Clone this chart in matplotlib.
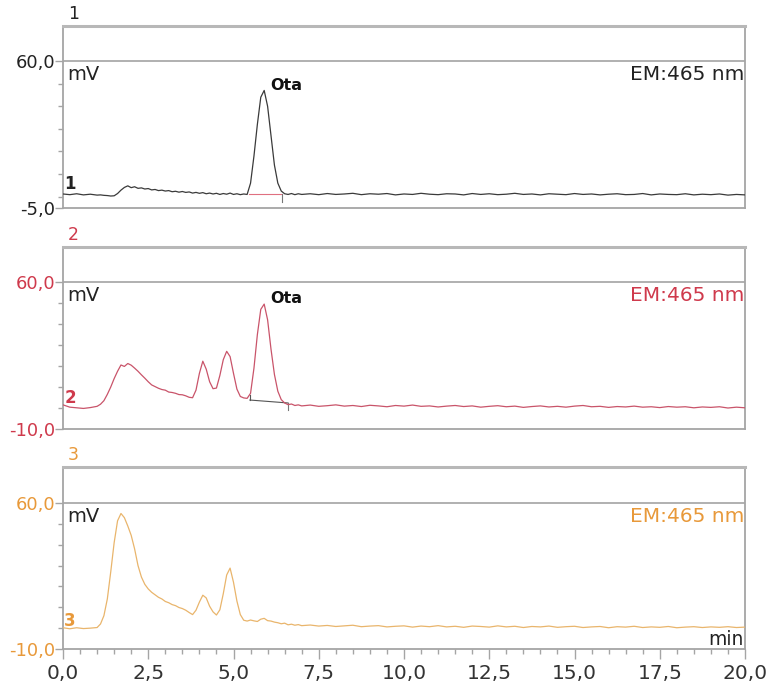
import numpy as np
import matplotlib
matplotlib.use("Agg")
import matplotlib.pyplot as plt
from matplotlib.ticker import MultipleLocator, FixedLocator

# ---------------- data ----------------
# time grid (min)
time = np.round(np.concatenate([
    np.arange(0.0, 1.01, 0.2),
    np.arange(1.1, 7.01, 0.1),
    np.arange(7.25, 20.01, 0.25),
]), 3)

signal_1 = [1.2, 0.9, 1.3, 0.8, 1.1, 0.7,
            0.8, 0.6, 0.5, 0.3, 0.4, 1.4, 2.9, 4.1, 4.8, 4.0,
            4.4, 3.7, 3.9, 3.4, 3.6, 3.0, 3.2, 2.7, 2.9, 2.5,
            2.7, 2.2, 2.4, 2.0, 2.3, 1.9, 2.1, 1.6, 1.9, 1.5,
            1.8, 1.3, 1.6, 1.2, 1.5, 1.0, 1.4, 1.1, 1.6, 1.0,
            1.3, 0.9, 1.2, 1.0, 6.0, 18.0, 32.0, 44.0, 47.0, 40.0,
            27.0, 14.0, 6.0, 2.5, 1.3, 1.0, 1.4, 0.9, 1.3, 1.0,
            1.3, 0.9, 1.4, 1.0, 1.2, 1.5, 0.9, 1.3, 1.1, 1.4, 0.8, 1.2, 1.0,
            1.5, 1.1, 0.9, 1.3, 1.2, 0.8, 1.4, 1.0, 1.3, 0.9, 1.1, 1.5, 1.0,
            1.2, 0.8, 1.3, 1.1, 0.9, 1.4, 1.0, 1.2, 0.8, 1.1, 1.3, 0.9, 1.0,
            1.4, 0.8, 1.2, 1.0, 0.9, 1.3, 0.8, 1.1, 0.9, 1.2, 0.7, 1.0, 0.8]

signal_2 = [1.5, 0.4, 0.1, -0.2, 0.2, 0.8,
            1.8, 3.5, 6.5, 10.0, 14.0, 17.5, 20.5, 19.8, 21.2, 20.4,
            19.0, 17.5, 15.8, 14.2, 12.5, 11.0, 10.2, 9.4, 8.8, 8.5,
            7.6, 7.4, 7.0, 6.4, 6.3, 5.8, 5.1, 4.9, 8.5, 16.5,
            22.3, 18.5, 12.5, 9.2, 9.5, 15.5, 23.0, 27.0, 24.5, 16.5,
            9.0, 5.5, 4.8, 4.6, 7.0, 19.0, 35.0, 47.0, 49.5, 42.0,
            28.0, 16.0, 8.0, 4.0, 2.4, 1.6, 1.9, 1.2, 1.5, 1.0,
            1.4, 0.8, 1.1, 1.5, 0.9, 1.2, 0.7, 1.3, 1.0, 0.6, 1.2, 0.9, 1.4,
            0.8, 1.0, 0.5, 0.9, 1.2, 0.7, 1.0, 0.4, 0.8, 1.1, 0.6, 0.9, 0.3,
            0.7, 1.0, 0.5, 0.8, 0.4, 0.9, 1.2, 0.6, 0.8, 0.3, 0.7, 0.5, 0.9,
            0.4, 0.6, 0.2, 0.7, 0.4, 0.6, 0.1, 0.5, 0.3, 0.6, 0.0, 0.4, 0.1]

signal_3 = [0.2, -0.3, 0.2, -0.2, 0.0, 0.3,
            2.0, 6.0, 14.0, 27.0, 41.0, 51.5, 55.0, 53.0, 49.0, 44.5,
            38.0, 30.0, 24.5, 21.0, 18.8, 17.2, 16.0, 14.8, 14.0, 12.8,
            12.2, 11.3, 10.8, 9.9, 9.4, 8.6, 7.5, 6.5, 8.6, 12.5,
            15.8, 14.5, 10.5, 7.8, 6.3, 8.8, 16.5, 25.5, 28.8, 22.0,
            13.0, 6.5, 3.8, 3.4, 3.9, 3.5, 3.2, 4.3, 4.7, 3.6,
            3.4, 2.9, 2.6, 2.1, 2.4, 1.6, 1.9, 1.4, 1.7, 1.2,
            1.5, 1.0, 1.3, 0.8, 1.1, 1.4, 0.7, 1.0, 1.2, 0.6, 0.9, 1.1, 0.5,
            1.0, 0.7, 1.2, 0.6, 0.9, 0.4, 1.0, 0.8, 0.5, 1.1, 0.6, 0.9, 0.3,
            0.8, 0.6, 1.0, 0.4, 0.7, 0.9, 0.3, 0.6, 0.8, 0.2, 0.7, 0.5, 0.9,
            0.3, 0.6, 0.4, 0.8, 0.2, 0.5, 0.7, 0.3, 0.6, 0.4, 0.7, 0.3, 0.5]

signals = [signal_1, signal_2, signal_3]
channel_ids = ["1", "2", "3"]
y_min_labels = ["-5,0", "-10,0", "-10,0"]
y_mins = [-5.0, -10.0, -10.0]
y_top_label = "60,0"
y_top = 60.0
detector_label = "EM:465 nm"
unit_label = "mV"
time_label = "min"
peak_name = "Ota"
peak_time = [5.9, 5.9, None]
peak_height = [47.0, 49.5, None]
# integration baselines (start/end time, start/end value)
int_base_t = [(5.45, 6.42), (5.48, 6.6), None]
int_base_v = [(1.0, 1.0), (3.8, 2.4), None]
x_ticks = [0.0, 2.5, 5.0, 7.5, 10.0, 12.5, 15.0, 17.5, 20.0]
x_tick_labels = ["0,0", "2,5", "5,0", "7,5", "10,0", "12,5", "15,0", "17,5", "20,0"]

for s in signals:
    assert len(s) == len(time), (len(s), len(time))

# ---------------- style ----------------
W, H = 770, 691
trace_colors = ["#3a3a3a", "#c9546a", "#e9b56c"]
label_colors = ["#222222", "#cf3a4c", "#e8993a"]
spine_col = "#a5a5a5"
plt.rcParams["font.family"] = ["DejaVu Sans"]

fig = plt.figure(figsize=(W / 100, H / 100), dpi=100)
boxes = [(26, 208), (247, 429), (467, 649)]
y_tops = [75.5, 76.7, 77.3]

for i, (top, bot) in enumerate(boxes):
    ax = fig.add_axes([63 / W, 1 - bot / H, (745 - 63) / W, (bot - top) / H])
    ax.set_xlim(0, 20)
    ax.set_ylim(y_mins[i], y_tops[i])
    ax.plot(time, signals[i], color=trace_colors[i], lw=0.9, zorder=3)
    ax.axhline(y_top, color="#b0b0b0", lw=1.4, zorder=1)

    for side in ["left", "right", "bottom"]:
        ax.spines[side].set_color(spine_col)
        ax.spines[side].set_linewidth(1.3)
    ax.spines["top"].set_color("#b8b8b8")
    ax.spines["top"].set_linewidth(2.2)

    # y ticks
    ax.yaxis.set_major_locator(FixedLocator([y_mins[i], y_top]))
    ax.set_yticklabels([y_min_labels[i], y_top_label])
    ax.yaxis.set_minor_locator(FixedLocator([0, 10, 20, 30, 40, 50]))
    ax.tick_params(axis="y", which="major", direction="out", length=5.5, width=1.0,
                   color=spine_col, labelsize=13, labelcolor=label_colors[i], pad=0)
    ax.tick_params(axis="y", which="minor", direction="out", length=3.5, width=1.0,
                   color=spine_col)

    if i < 2:
        ax.set_xticks([])
    else:
        ax.set_xticks(x_ticks)
        ax.set_xticklabels(x_tick_labels)
        ax.xaxis.set_minor_locator(MultipleLocator(0.5))
        ax.tick_params(axis="x", which="major", direction="out", length=7, width=1.0,
                       color=spine_col, labelsize=14.5, labelcolor="#333333", pad=4)
        ax.tick_params(axis="x", which="minor", direction="out", length=3.5, width=1.0,
                       color=spine_col)
        ax.text(19.95, y_mins[i] + 1.9, time_label, ha="right", va="baseline",
                fontsize=13.5, color="#222222")

    # texts
    ax.text(0.007, 1.015, channel_ids[i], transform=ax.transAxes, ha="left",
            va="bottom", fontsize=12.5, color=label_colors[i])
    ax.text(0.12, y_top - 1.8, unit_label, ha="left", va="top", fontsize=14,
            color="#222222")
    ax.text(19.98, y_top - 1.8, detector_label, ha="right", va="top", fontsize=14.5,
            color=label_colors[i])
    ax.text(0.04, signals[i][0] + 0.6 if i == 0 else signals[i][0] - 1.0,
            channel_ids[i], ha="left", va="bottom", fontsize=12,
            fontweight="bold", color=label_colors[i], zorder=4)

    if peak_time[i] is not None:
        ax.text(peak_time[i] + 0.17, peak_height[i] + 0.3, peak_name, ha="left",
                va="baseline", fontsize=11.5, fontweight="bold", color="#111111")
        (t0, t1), (v0, v1) = int_base_t[i], int_base_v[i]
        base_col = "#e07080" if i == 0 else "#555555"
        ax.plot([t0, t1], [v0, v1], color=base_col, lw=0.8, zorder=2)
        ax.plot([t1, t1], [v1, v1 - 3.5], color="#777777", lw=0.8, zorder=2)
        if i == 1:
            ax.plot([t0, t0], [v0, v0 + 2.5], color="#555555", lw=0.8, zorder=2)

fig.savefig("out.png", dpi=100)
